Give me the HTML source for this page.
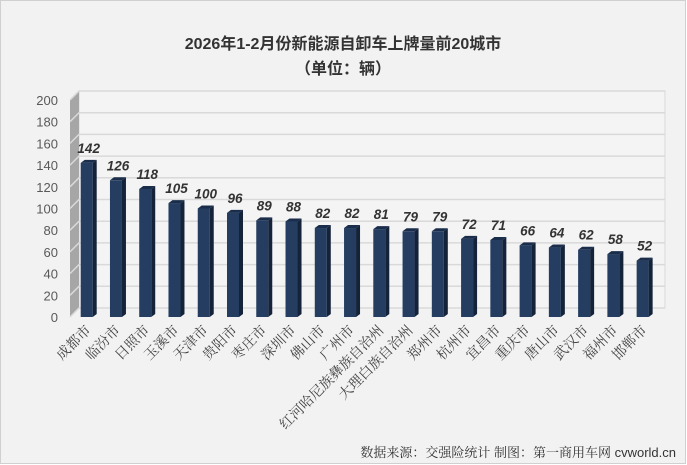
<!DOCTYPE html>
<html><head><meta charset="utf-8"><style>
html,body{margin:0;padding:0;background:#fff;}
svg{display:block;}
</style></head><body>
<svg id="chart" width="687" height="465" viewBox="0 0 687 465" xmlns="http://www.w3.org/2000/svg">
<rect x="0.5" y="0.5" width="685" height="463" fill="#f2f2f2" stroke="#d0d0d0"/>
<text x="343" y="49" text-anchor="middle" font-family="Liberation Sans, Noto Sans CJK SC, sans-serif" font-size="16" font-weight="bold" fill="#333">2026年1-2月份新能源自卸车上牌量前20城市</text>
<text x="343" y="74" text-anchor="middle" font-family="Liberation Sans, Noto Sans CJK SC, sans-serif" font-size="16" font-weight="bold" fill="#333">（单位：辆）</text>
<g id="axes"></g>
<g id="bars"></g>
<text x="676" y="457" text-anchor="end" font-family="Liberation Sans, Noto Serif CJK SC, serif" font-size="13" fill="#333">数据来源：交强险统计 制图：第一商用车网 cvworld.cn</text>
</svg>
<script>
const categories = ["成都市","临汾市","日照市","玉溪市","天津市","贵阳市","枣庄市","深圳市","佛山市","广州市","红河哈尼族彝族自治州","大理白族自治州","郑州市","杭州市","宜昌市","重庆市","唐山市","武汉市","福州市","邯郸市"];
const values = [142,126,118,105,100,96,89,88,82,82,81,79,79,72,71,66,64,62,58,52];
const ticks = [0,20,40,60,80,100,120,140,160,180,200];

const NS = "http://www.w3.org/2000/svg";
const axes = document.getElementById('axes');
const barsG = document.getElementById('bars');
const yMax = 200;
const baseY = 317, plotH = 217;
const depthX = 9, depthY = 9;
function yScale(v){ return baseY - v / yMax * plotH; }
function xCenter(i){ return 86.7 + i * 29.26; }
function mk(tag, attrs){ const e = document.createElementNS(NS, tag); for (const k in attrs) e.setAttribute(k, attrs[k]); return e; }

const wall = mk('rect', {x:79, y:yScale(yMax)-depthY, width:586, height:plotH, fill:'#f4f4f4', stroke:'#d9d9d9'});


axes.appendChild(wall);
const side = mk('polygon', {points:`70,${yScale(yMax)} 79,${yScale(yMax)-depthY} 79,${baseY-depthY} 70,${baseY}`, fill:'#a6a6a6'});


axes.appendChild(side);

ticks.forEach(t => {
  const y = yScale(t);
  const gl = mk('polyline', {points:`70,${y} 79,${y-depthY} 665,${y-depthY}`, fill:'none', stroke:'#d9d9d9', 'stroke-width':1.5});
  
  
  axes.appendChild(gl);
  const lb = mk('text', {x:58, y:y+5, 'text-anchor':'end', 'font-family':'Liberation Sans, sans-serif', 'font-size':13, fill:'#595959'});
  lb.textContent = t;
  
  
  axes.appendChild(lb);
});

values.forEach((v, i) => {
  const cx = xCenter(i);
  const x0 = cx - 6, w = 12, d = 4, top = yScale(v);
  const g = mk('g', {});
  
  
  g.appendChild(mk('rect', {x:x0, y:top, width:w, height:baseY-top, fill:'#243d60'}));
  g.appendChild(mk('polygon', {points:`${x0+w},${top} ${x0+w+d},${top-3} ${x0+w+d},${baseY-3} ${x0+w},${baseY}`, fill:'#14233a'}));
  g.appendChild(mk('polygon', {points:`${x0},${top} ${x0+d},${top-3} ${x0+w+d},${top-3} ${x0+w},${top}`, fill:'#1a2e4b'}));
  barsG.appendChild(g);
  const vl = mk('text', {x:cx+2, y:top-10, 'text-anchor':'middle', 'font-family':'Liberation Sans, sans-serif', 'font-size':13.5, 'font-weight':'bold', 'font-style':'italic', fill:'#333'});
  vl.textContent = v;
  
  
  barsG.appendChild(vl);
  const cl = mk('text', {x:0, y:0, 'text-anchor':'end', 'font-family':'Liberation Serif, Noto Serif CJK SC, serif', 'font-size':14, fill:'#444', transform:`translate(${cx+5},${331}) rotate(-45)`});
  cl.textContent = categories[i];
  
  
  barsG.appendChild(cl);
});
</script>
</body></html>
